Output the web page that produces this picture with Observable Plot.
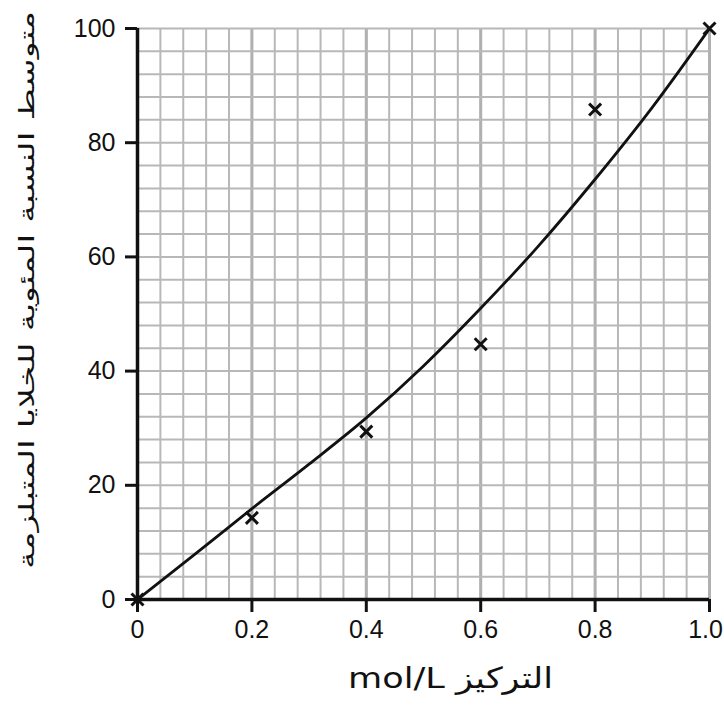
<!DOCTYPE html>
<html>
<head>
<meta charset="utf-8">
<script src="https://cdn.jsdelivr.net/npm/d3@7"></script>
<script src="https://cdn.jsdelivr.net/npm/@observablehq/plot@0.6"></script>
<style>
  html, body { margin: 0; padding: 0; background: #fff; }
</style>
</head>
<body>
<div id="chart"></div>
<script>
// Measured points (crosses)
const concentration = [0, 0.2, 0.4, 0.6, 0.8, 1.0];
const plasmolysed = [0, 14.3, 29.4, 44.7, 85.8, 100];

// Best-fit curve
const curveX = [0, 0.1, 0.2, 0.3, 0.4, 0.5, 0.6, 0.7, 0.8, 0.9, 1.0];
const curveY = [0, 7.9, 15.9, 23.7, 31.8, 40.9, 51.0, 61.8, 73.6, 86.2, 100];

// Tick values and labels
const xTicks = [0, 0.2, 0.4, 0.6, 0.8, 1.0];
const xTickLabels = ["0", "0.2", "0.4", "0.6", "0.8", "1.0"];
const yTicks = [0, 20, 40, 60, 80, 100];
const yTickLabels = ["0", "20", "40", "60", "80", "100"];

// Graph-paper grid positions
const xGrid = d3.range(0, 25 + 1).map(i => i * 0.04);
const yGrid = d3.range(0, 25 + 1).map(i => i * 4);

const xLabel = "mol/L التركيز";
const yLabel = "متوسط النسبة المئوية للخلايا المتبلزمة";

const points = concentration.map((x, i) => ({x, y: plasmolysed[i]}));
const curve = curveX.map((x, i) => ({x, y: curveY[i]}));

const chart = Plot.plot({
  width: 724,
  height: 715,
  marginLeft: 137,
  marginRight: 15,
  marginTop: 28,
  marginBottom: 116,
  x: {domain: [0, 1]},
  y: {domain: [0, 100]},
  style: {fontFamily: "'Liberation Sans', Arial, sans-serif", background: "white", color: "#111"},
  marks: [
    Plot.gridX(xGrid, {stroke: "#b8b8b8", strokeOpacity: 1, strokeWidth: 2}),
    Plot.gridX(xTicks, {stroke: "#b0b0b0", strokeOpacity: 1, strokeWidth: 3}),
    Plot.gridY(yGrid, {stroke: "#b8b8b8", strokeOpacity: 1, strokeWidth: 2}),
    Plot.axisX(xTicks, {
      tickSize: 13, tickPadding: 8, strokeWidth: 3, fontSize: 25, label: null,
      className: "xax",
      tickFormat: d => xTickLabels[xTicks.indexOf(d)]
    }),
    Plot.axisY(yTicks, {
      tickSize: 12, tickPadding: 10, strokeWidth: 3, fontSize: 25, label: null,
      tickFormat: d => yTickLabels[yTicks.indexOf(d)]
    }),
    Plot.ruleX([0], {stroke: "#111", strokeWidth: 3.5}),
    Plot.ruleY([0], {stroke: "#111", strokeWidth: 3.5}),
    Plot.line(curve, {x: "x", y: "y", curve: "monotone-x", stroke: "#111", strokeWidth: 2.8}),
    Plot.dot(points, {x: "x", y: "y", symbol: "times", r: 5.5, stroke: "#111", strokeWidth: 3}),
    Plot.text([xLabel], {
      frameAnchor: "bottom", dx: 27, dy: 88, fontSize: 29, fill: "#111",
      className: "xlab",
      fontFamily: "'DejaVu Sans', 'Liberation Sans', sans-serif"
    }),
    Plot.text([yLabel], {
      frameAnchor: "left", textAnchor: "middle", rotate: -90, dx: -110, dy: -24, fontSize: 21, fill: "#111",
      className: "ylab",
      fontFamily: "'DejaVu Sans', sans-serif"
    })
  ]
});

// fit label lengths to the reference
const yl = chart.querySelector(".ylab text");
if (yl) { yl.setAttribute("textLength", 558); yl.setAttribute("lengthAdjust", "spacingAndGlyphs"); }
const xl = chart.querySelector(".xlab text");
if (xl) { xl.setAttribute("textLength", 205); xl.setAttribute("lengthAdjust", "spacingAndGlyphs"); }
// keep the last x tick label inside the picture
const xt = chart.querySelectorAll(".xax text");
if (xt.length) { xt[xt.length - 1].setAttribute("dx", "-4"); }

document.getElementById("chart").appendChild(chart);
</script>
</body>
</html>
